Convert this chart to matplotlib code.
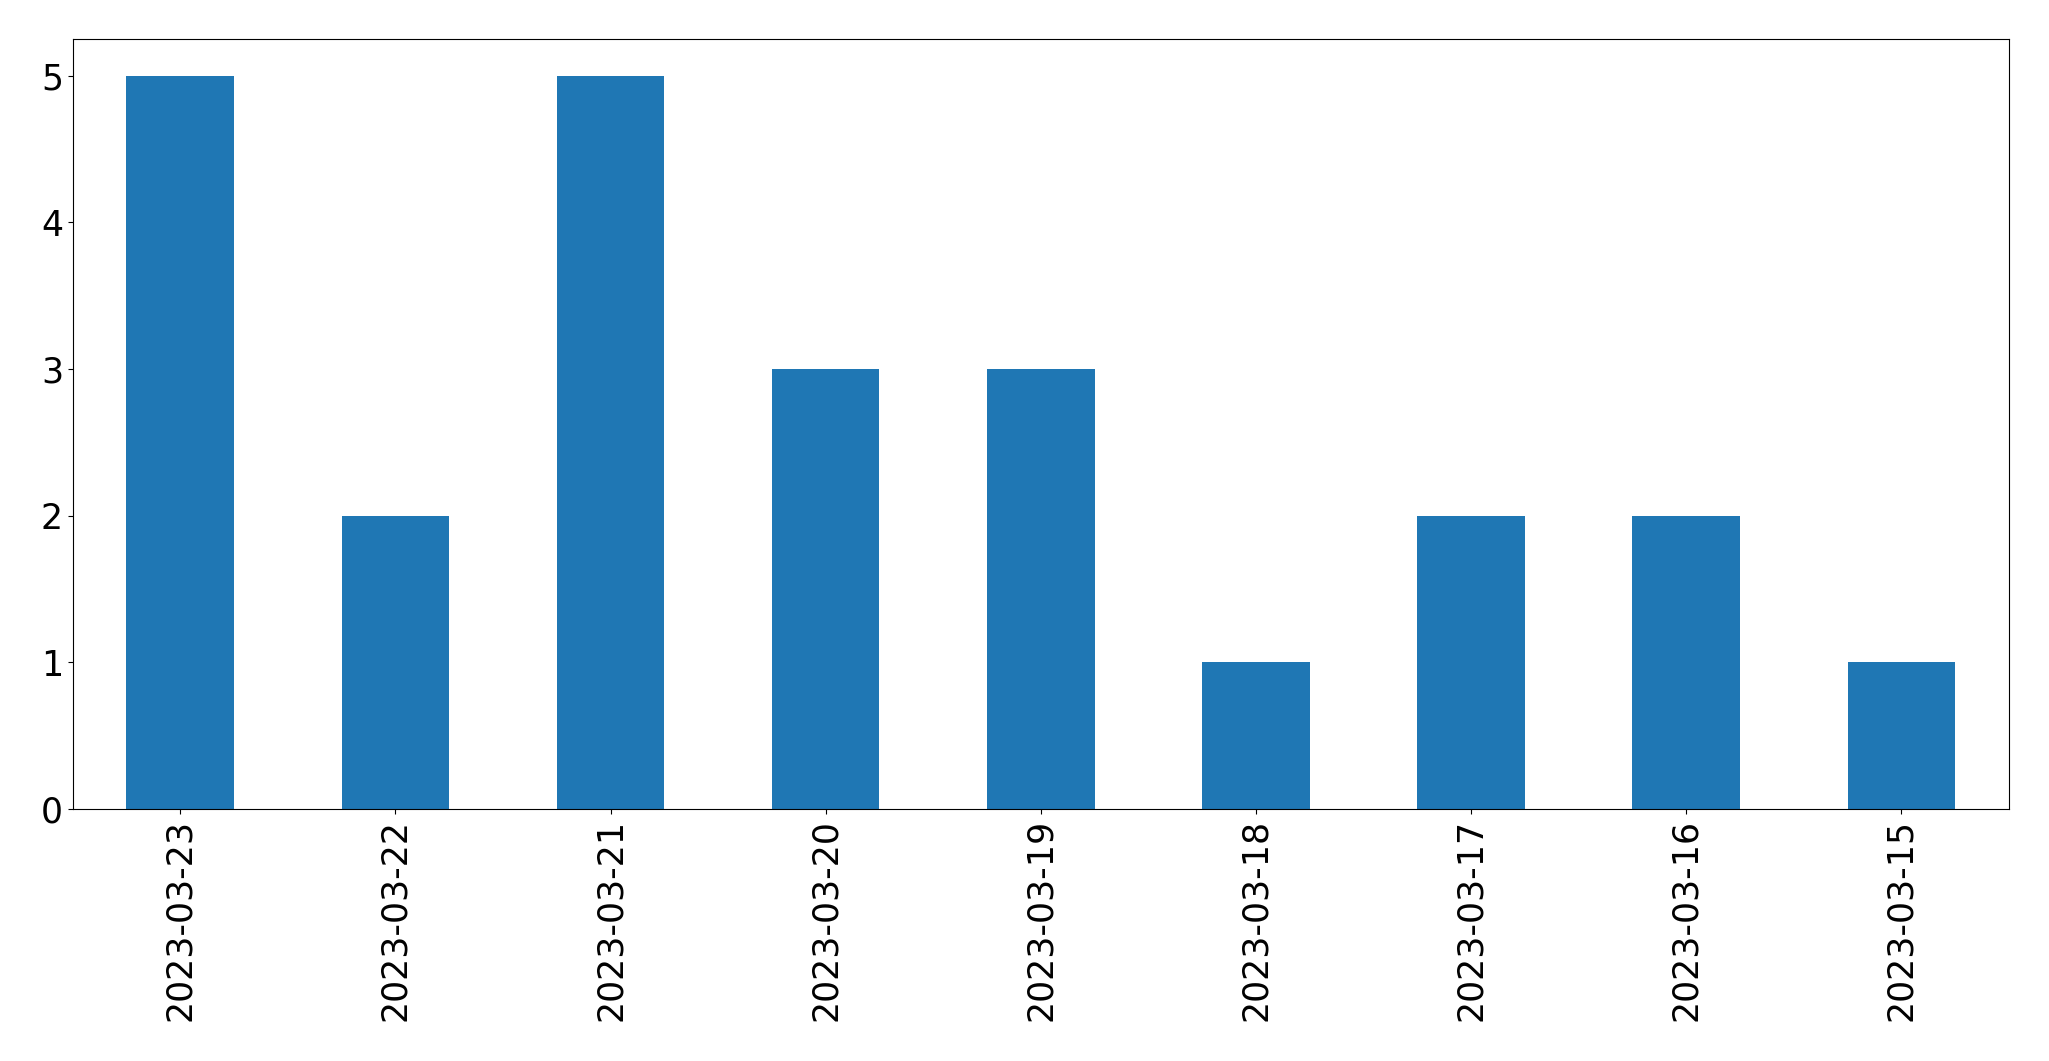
import matplotlib
matplotlib.use("Agg")
import matplotlib.pyplot as plt
import numpy as np

# Data
dates = ['2023-03-23', '2023-03-22', '2023-03-21', '2023-03-20', '2023-03-19',
         '2023-03-18', '2023-03-17', '2023-03-16', '2023-03-15']
counts = [5, 2, 5, 3, 3, 1, 2, 2, 1]

fig = plt.figure(figsize=(20.49, 10.61), dpi=100)
ax = fig.add_axes([72.7 / 2049, (1061 - 809) / 1061, 1936.3 / 2049, 770 / 1061])

x = np.arange(len(dates))
ax.bar(x, counts, width=0.5, color='#1f77b4')
ax.set_xlim(-0.5, len(dates) - 0.5)
ax.set_xticks(x)
ax.set_xticklabels(dates, rotation=90, fontsize=25)
ax.tick_params(axis='y', labelsize=25)

fig.savefig('out.png', dpi=100)
